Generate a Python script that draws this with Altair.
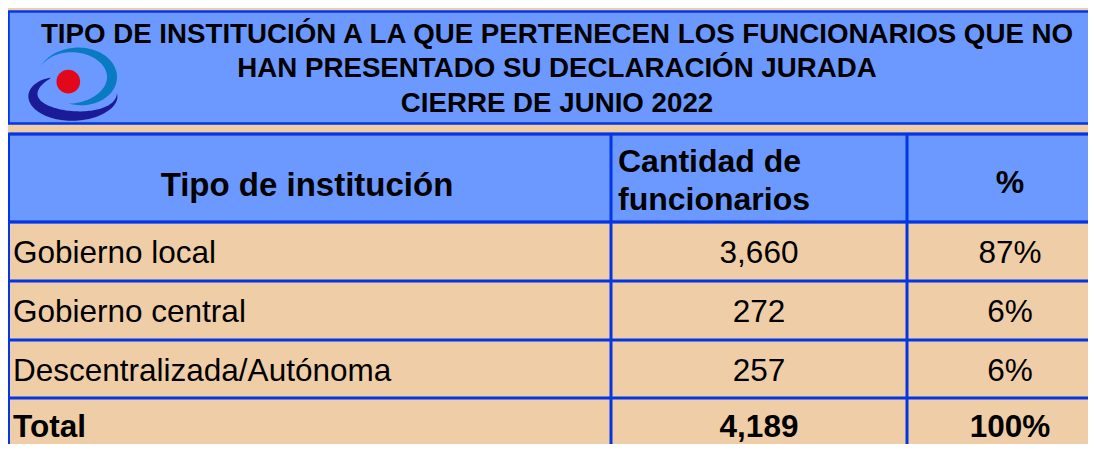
import altair as alt
import pandas as pd
import numpy as np

# ---------------- data ----------------
title_lines = [
    "TIPO DE INSTITUCIÓN A LA QUE PERTENECEN LOS FUNCIONARIOS QUE NO",
    "HAN PRESENTADO SU DECLARACIÓN JURADA",
    "CIERRE DE JUNIO 2022",
]
header_tipo = "Tipo de institución"
header_cantidad = ["Cantidad de", "funcionarios"]
header_pct = "%"
categories = ["Gobierno local", "Gobierno central", "Descentralizada/Autónoma"]
cantidad = [3660, 272, 257]
porcentaje = [87, 6, 6]
total_label = "Total"
total_cantidad = 4189
total_porcentaje = 100

# ---------------- style / layout ----------------
TAN = "#EFCDA6"
BLUE_FILL = "#6B99FF"
BORDER = "#0336E6"
FONT = "Liberation Sans"
OFF = 8  # page margin: layout below is in page pixels

def px(v):
    return v - OFF

row_lines = [134, 222, 281, 340, 398]
col_lines = [8.5, 611, 907]
row_baselines = [263, 322, 381]
total_baseline = 437
col1_x, col2_cx, col3_cx = 13, 759, 1010

# ---------------- frames ----------------
rects = pd.DataFrame({
    "x0": [px(8.5), px(8.5)],
    "x1": [px(1110), px(1110)],
    "y0": [px(11.5), px(134)],
    "y1": [px(123.5), px(222)],
    "kind": ["title", "header"],
})
rect_layer = alt.Chart(rects).mark_rect(fill=BLUE_FILL, stroke=BORDER, strokeWidth=2.5).encode(
    x=alt.X("x0:Q", scale=None, axis=None), x2="x1:Q",
    y=alt.Y("y0:Q", scale=None, axis=None), y2="y1:Q",
)

hl = pd.DataFrame({"x0": [px(8.5)] * len(row_lines), "x1": [px(1110)] * len(row_lines),
                   "y": [px(v) for v in row_lines]})
h_layer = alt.Chart(hl).mark_rule(color=BORDER, strokeWidth=3).encode(
    x=alt.X("x0:Q", scale=None, axis=None), x2="x1:Q",
    y=alt.Y("y:Q", scale=None, axis=None),
)
vl = pd.DataFrame({"x": [px(v) for v in col_lines], "y0": [px(134)] * 3, "y1": [px(470)] * 3})
v_layer = alt.Chart(vl).mark_rule(color=BORDER, strokeWidth=3).encode(
    x=alt.X("x:Q", scale=None, axis=None),
    y=alt.Y("y0:Q", scale=None, axis=None), y2="y1:Q",
)

# ---------------- logo ----------------
LC = (75, 85)
H = 50.0

def crescent(cx, cy, a, b, t0, t1, wmax, k, n=80):
    t = np.radians(np.linspace(t0, t1, n))
    s = np.linspace(0, 1, n)
    w = wmax * np.sin(np.pi * s ** k)
    ox = cx + (a + w / 2) * np.cos(t)
    oy = cy + (b + w / 2) * np.sin(t)
    ix = cx + (a - w / 2) * np.cos(t)
    iy = cy + (b - w / 2) * np.sin(t)
    xs = list(ox) + list(ix[::-1])
    ys = list(oy) + list(iy[::-1])
    pts = [f"{(x - LC[0]) / H:.4f},{(y - LC[1]) / H:.4f}" for x, y in zip(xs, ys)]
    return "M" + " L".join(pts) + " Z"

light_path = crescent(75, 77, 37, 27, -160, 100, 10, 1.43)
navy_path = crescent(75, 95, 42, 21, -125, -365, 11, 0.79)

logo_df = pd.DataFrame({"x": [px(LC[0])], "y": [px(LC[1])]})
logo_light = alt.Chart(logo_df).mark_point(
    shape=light_path, filled=True, fill="#0A7BC2", opacity=1, strokeWidth=0, size=(2 * H) ** 2
).encode(x=alt.X("x:Q", scale=None, axis=None), y=alt.Y("y:Q", scale=None, axis=None))
logo_navy = alt.Chart(logo_df).mark_point(
    shape=navy_path, filled=True, fill="#1B1B98", opacity=1, strokeWidth=0, size=(2 * H) ** 2
).encode(x=alt.X("x:Q", scale=None, axis=None), y=alt.Y("y:Q", scale=None, axis=None))
dot_df = pd.DataFrame({"x": [px(68.3)], "y": [px(81.7)]})
logo_dot = alt.Chart(dot_df).mark_point(
    shape="circle", filled=True, fill="#E2081A", opacity=1, strokeWidth=0, size=560
).encode(x=alt.X("x:Q", scale=None, axis=None), y=alt.Y("y:Q", scale=None, axis=None))

# ---------------- texts ----------------
rows = []
# title
for line, yb in zip(title_lines, [43, 77, 112]):
    rows.append(dict(text=line, x=557, y=yb, size=27.7, align="center", weight="bold"))
# header
rows.append(dict(text=header_tipo, x=307, y=196, size=33, align="center", weight="bold"))
rows.append(dict(text=header_cantidad[0], x=618, y=172, size=32, align="left", weight="bold"))
rows.append(dict(text=header_cantidad[1], x=618, y=210, size=32, align="left", weight="bold"))
rows.append(dict(text=header_pct, x=col3_cx, y=193, size=32, align="center", weight="bold"))
# body
for cat, c, p, yb in zip(categories, cantidad, porcentaje, row_baselines):
    rows.append(dict(text=cat, x=col1_x, y=yb, size=31.5, align="left", weight="normal"))
    rows.append(dict(text=f"{c:,}", x=col2_cx, y=yb, size=31.5, align="center", weight="normal"))
    rows.append(dict(text=f"{p}%", x=col3_cx, y=yb, size=31.5, align="center", weight="normal"))
# total
rows.append(dict(text=total_label, x=col1_x, y=total_baseline, size=31.5, align="left", weight="bold"))
rows.append(dict(text=f"{total_cantidad:,}", x=col2_cx, y=total_baseline, size=31.5, align="center", weight="bold"))
rows.append(dict(text=f"{total_porcentaje}%", x=col3_cx, y=total_baseline, size=31.5, align="center", weight="bold"))

texts = pd.DataFrame(rows)
texts["x"] = texts["x"] - OFF
texts["y"] = texts["y"] - OFF

text_layers = []
for al in ["left", "center"]:
    for wt in ["normal", "bold"]:
        sub = texts[(texts["align"] == al) & (texts["weight"] == wt)]
        if len(sub) == 0:
            continue
        text_layers.append(
            alt.Chart(sub).mark_text(
                align=al, baseline="alphabetic", font=FONT, fontWeight=wt, color="black"
            ).encode(
                x=alt.X("x:Q", scale=None, axis=None),
                y=alt.Y("y:Q", scale=None, axis=None),
                text="text:N",
                size=alt.Size("size:Q", scale=None, legend=None),
            )
        )

chart = alt.layer(
    rect_layer, h_layer, v_layer, logo_light, logo_navy, logo_dot, *text_layers
).properties(
    width=1080, height=436, background=TAN, padding=0,
    autosize=alt.AutoSizeParams(type="none"),
).configure_view(stroke=None)

chart.save("out.html", embed_options={"renderer": "svg", "actions": False})
